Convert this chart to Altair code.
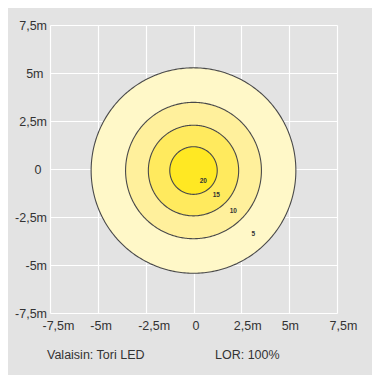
import altair as alt
import numpy as np
import pandas as pd

# ---- data ----
levels = [5, 10, 15, 20]                 # lux levels of the isolines
radii = [5.35, 3.55, 2.36, 1.24]         # radius of each isoline (m)
fills = ["#fff8c8", "#fff09c", "#ffea5e", "#ffe823"]
center_x = 0.0
center_y = -0.08
label_x = [3.12, 2.08, 1.19, 0.51]       # label positions (m)
label_y = [-3.36, -2.18, -1.38, -0.65]
tick_values = [-7.5, -5, -2.5, 0, 2.5, 5, 7.5]
tick_labels = ["-7,5m", "-5m", "-2,5m", "0", "2,5m", "5m", "7,5m"]
info_left = "Valaisin: Tori LED"
info_right = "LOR: 100%"

# ---- build circle outlines from the radii ----
t = np.linspace(0, 2 * np.pi, 361)

expr = " : ".join(
    f"datum.value == {v} ? '{l}'" for v, l in zip(tick_values, tick_labels)
) + " : ''"

font = "Liberation Sans"
xscale = alt.Scale(domain=[-7.5, 7.5], nice=False, zero=False)
yscale = alt.Scale(domain=[-7.5, 7.5], nice=False, zero=False)

xaxis = alt.Axis(values=tick_values, labelExpr=expr, title=None, grid=True,
                 gridColor="#ffffff", gridWidth=1.2, domain=False, ticks=False,
                 labelPadding=6, labelFont=font, labelFontSize=12.5,
                 labelColor="#333333", labelFlush=False, labelAlign="left",
                 labelOffset={"condition": {"test": "datum.value == 0", "value": -1.5}, "value": -8})
yaxis = alt.Axis(values=tick_values, labelExpr=expr, title=None, grid=True,
                 gridColor="#ffffff", gridWidth=1.2, domain=False, ticks=False,
                 labelFont=font, labelFontSize=12.5,
                 labelColor="#333333", labelFlush=False,
                 labelPadding={"condition": [
                     {"test": "datum.value == 0", "value": 9},
                     {"test": "datum.value == 5", "value": 7},
                 ], "value": 3.5})

layers = []
for i, (lev, r, col) in enumerate(zip(levels, radii, fills)):
    df = pd.DataFrame({
        "k": np.arange(len(t)),
        "x": center_x + r * np.cos(t),
        "y": center_y + r * np.sin(t),
    })
    layers.append(
        alt.Chart(df).mark_line(fill=col, stroke="#4a4a4a", strokeWidth=1.1).encode(
            x=alt.X("x:Q", scale=xscale, axis=xaxis),
            y=alt.Y("y:Q", scale=yscale, axis=yaxis),
            order="k:Q",
        )
    )

labels_df = pd.DataFrame({"x": label_x, "y": label_y, "t": [str(v) for v in levels]})
lbl = alt.Chart(labels_df).mark_text(font=font, fontSize=6.5, fontWeight="bold", color="#333333").encode(
    x=alt.X("x:Q", scale=xscale, axis=xaxis), y=alt.Y("y:Q", scale=yscale, axis=yaxis), text="t:N"
)

info = alt.Chart(pd.DataFrame({"t": [info_left, info_right], "px": [-3, 165]})).mark_text(
    font=font, fontSize=12.5, color="#333333", align="left", baseline="middle"
).encode(x=alt.X("px:Q", scale=None), y=alt.value(330), text="t:N")

chart = alt.layer(*layers, lbl, info).properties(
    width=287, height=288,
    autosize=alt.AutoSizeParams(type="none"),
    padding={"left": 42, "top": 17, "right": 35, "bottom": 62},
    background="#e3e3e3",
).configure_view(fill="#e3e3e3", stroke=None)

chart.save("out.html", embed_options={"renderer": "svg", "actions": False})
